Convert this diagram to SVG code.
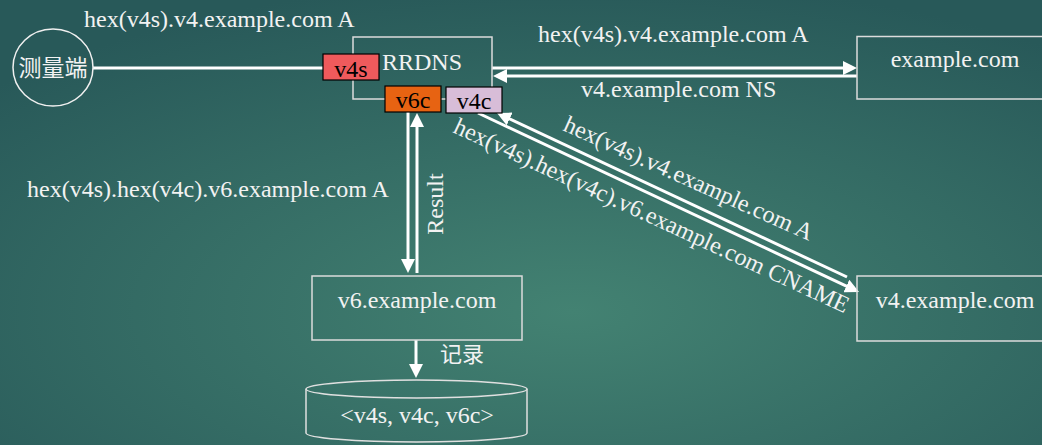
<svg xmlns="http://www.w3.org/2000/svg" width="1042" height="445" viewBox="0 0 1042 445">
<defs>
<radialGradient id="bg" cx="55%" cy="70%" r="75%">
<stop offset="0" stop-color="#438272"/>
<stop offset="1" stop-color="#285959"/>
</radialGradient>
<marker id="arr" markerWidth="14" markerHeight="14" refX="10" refY="7" orient="auto" markerUnits="userSpaceOnUse">
<path d="M0,0 L14,7 L0,14 z" fill="#ffffff"/>
</marker>
<style>
.t{font-family:"Liberation Serif","Times New Roman",serif;font-size:24px;fill:#f2f2f2}
.k{font-family:"Liberation Serif","Times New Roman",serif;font-size:24px;fill:#000000}
.cjk{font-family:"Noto Sans CJK SC","Noto Sans CJK JP",sans-serif;font-size:22px;fill:#f2f2f2}
.box{fill:none;stroke:#dcdcdc;stroke-width:1.5}
.tag{stroke:#000000;stroke-width:1.2}
.ln{stroke:#ffffff;stroke-width:3;fill:none}
.m{text-anchor:middle}
</style>
</defs>
<rect x="0" y="0" width="1042" height="445" fill="url(#bg)"/>

<g id="connectors">
<line class="ln" x1="93" y1="68" x2="323" y2="68"/>
<line class="ln" x1="492" y1="68" x2="853" y2="68" marker-end="url(#arr)"/>
<line class="ln" x1="857" y1="76" x2="497" y2="76" marker-end="url(#arr)"/>
<line class="ln" x1="408" y1="112" x2="408" y2="269" marker-end="url(#arr)"/>
<line class="ln" x1="417" y1="273" x2="417" y2="117" marker-end="url(#arr)"/>
<line class="ln" x1="478" y1="113" x2="855.4" y2="290.3" marker-end="url(#arr)"/>
<line class="ln" x1="847" y1="277" x2="500.6" y2="114.7" marker-end="url(#arr)"/>
<line class="ln" x1="416" y1="340" x2="416" y2="374" marker-end="url(#arr)"/>
</g>

<g id="labels">
<text class="t" x="84" y="27">hex(v4s).v4.example.com A</text>
<text class="t" x="538" y="42">hex(v4s).v4.example.com A</text>
<text class="t" x="581" y="97">v4.example.com NS</text>
<text class="t" x="27" y="197">hex(v4s).hex(v4c).v6.example.com A</text>
<text class="t m" transform="translate(443,204) rotate(-90)">Result</text>
<text class="t" transform="translate(562,130) rotate(24.2)">hex(v4s).v4.example.com A</text>
<text class="t" transform="translate(452,132) rotate(24.8)">hex(v4s).hex(v4c).v6.example.com CNAME</text>
<text class="cjk" x="440" y="362">记录</text>
</g>

<g id="client">
<ellipse cx="53" cy="67.5" rx="40" ry="38.5" fill="none" stroke="#f0f0f0" stroke-width="1.5"/>
<text class="cjk m" x="53" y="76" style="font-size:23px">测量端</text>
</g>

<g id="rrdns">
<rect class="box" x="353" y="37" width="139" height="62"/>
<text class="t" x="382" y="70">RRDNS</text>
</g>

<g id="v4s">
<rect class="tag" x="323" y="54" width="56" height="26" fill="#ef5a5c"/>
<text class="k m" x="351" y="77">v4s</text>
</g>

<g id="v6c">
<rect class="tag" x="385" y="86" width="56" height="26" fill="#e76312"/>
<text class="k m" x="413" y="108">v6c</text>
</g>

<g id="v4c">
<rect class="tag" x="446" y="87" width="56" height="26" fill="#d8bdd8"/>
<text class="k m" x="474" y="109">v4c</text>
</g>

<g id="example">
<rect class="box" x="857" y="36.5" width="196" height="62.5"/>
<text class="t m" x="955" y="67">example.com</text>
</g>

<g id="v6example">
<rect class="box" x="312" y="276" width="210" height="64"/>
<text class="t m" x="417" y="308">v6.example.com</text>
</g>

<g id="v4example">
<rect class="box" x="857" y="276" width="196" height="65"/>
<text class="t m" x="955" y="308">v4.example.com</text>
</g>

<g id="database">
<ellipse cx="416.5" cy="389" rx="110.5" ry="9" fill="none" stroke="#e0e0e0" stroke-width="1.5"/>
<path d="M306,389 L306,433 A110.5,9 0 0 0 527,433 L527,389" fill="none" stroke="#e0e0e0" stroke-width="1.5"/>
<text class="t m" x="417" y="423">&lt;v4s, v4c, v6c&gt;</text>
</g>
</svg>
